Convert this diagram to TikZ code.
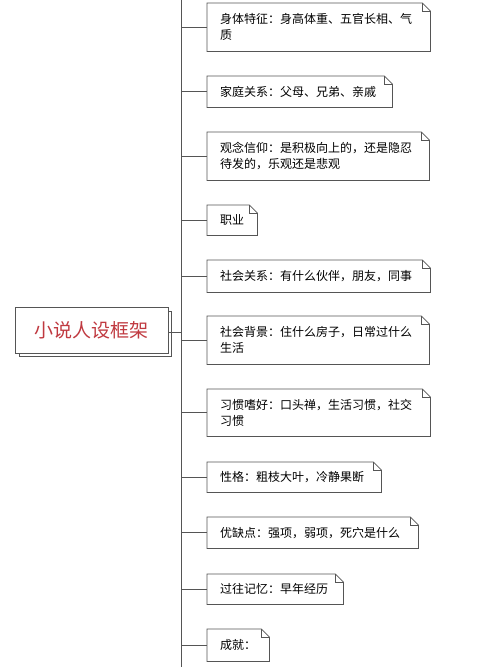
\documentclass[tikz,border=0pt]{standalone}
\usepackage{fontspec}
\setmainfont{Noto Sans CJK SC}
\usepackage{xcolor}
\usepackage{tikz}

\begin{document}
\begin{tikzpicture}[x=1pt, y=-1pt]
		\definecolor{linegray}{RGB}{85,85,85}
		\definecolor{titlered}{RGB}{192,57,64}
		\tikzstyle{note} = [anchor=north west, inner xsep=13pt, inner ysep=0pt, align=left, font=\fontsize{12}{16}\selectfont, text=black]
		\tikzstyle{root} = [rectangle, minimum width=153pt, minimum height=46pt, draw=linegray, fill=white, font=\fontsize{19}{22}\selectfont, text=titlered]
		\tikzstyle{edge} = [draw=linegray, line width=0.8pt]

		\useasboundingbox (0,0) rectangle (500,667);

		% spine
		\coordinate (top) at (181,0);
		\coordinate (bottom) at (181,667);
		\draw [edge] (top) -- (bottom);

		% root with shadow
		\draw [edge, fill=white] (19,311) rectangle (171,356);
		\node (title) [root] at (91.5,330) {小说人设框架};
		\draw [edge] ([yshift=-2pt]title.east) -- ([yshift=-2pt]title.east -| top);

		% notes
		\node (body) [note, text width=197pt, minimum height=48pt] at (207,3) {身体特征：身高体重、五官长相、气\\质};
		\node (family) [note, text width=159pt, minimum height=31pt] at (207,76) {家庭关系：父母、兄弟、亲戚};
		\node (belief) [note, text width=196pt, minimum height=48pt] at (207,132) {观念信仰：是积极向上的，还是隐忍\\待发的，乐观还是悲观};
		\node (job) [note, text width=24pt, minimum height=30pt] at (207,205) {职业};
		\node (social) [note, text width=197pt, minimum height=32pt] at (207,260) {社会关系：有什么伙伴，朋友，同事};
		\node (living) [note, text width=196pt, minimum height=48pt] at (207,316) {社会背景：住什么房子，日常过什么\\生活};
		\node (habit) [note, text width=197pt, minimum height=47pt] at (207,389) {习惯嗜好：口头禅，生活习惯，社交\\习惯};
		\node (temper) [note, text width=148pt, minimum height=30pt] at (207,462) {性格：粗枝大叶，冷静果断};
		\node (merits) [note, text width=185pt, minimum height=31pt] at (207,517) {优缺点：强项，弱项，死穴是什么};
		\node (memory) [note, text width=110pt, minimum height=30pt] at (207,574) {过往记忆：早年经历};
		\node (success) [note, text width=36pt, minimum height=32pt] at (207,629) {成就：};

		\foreach \n in {body,family,belief,job,social,living,habit,temper,merits,memory,success}{
			\draw [edge] (\n.north west) -- ([xshift=-8pt]\n.north east) -- ([yshift=-8pt]\n.north east) -- (\n.south east) -- (\n.south west) -- cycle;
			\draw [edge] ([xshift=-8pt]\n.north east) -- ([xshift=-8pt, yshift=-8pt]\n.north east) -- ([yshift=-8pt]\n.north east);
			\draw [edge] (\n.west -| top) -- (\n.west);
		}
	\end{tikzpicture}
\end{document}
